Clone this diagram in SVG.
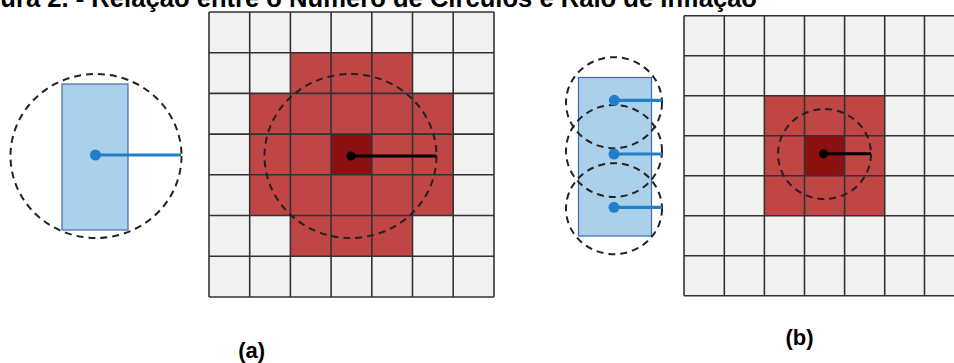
<svg xmlns="http://www.w3.org/2000/svg" width="954" height="363" viewBox="0 0 954 363">
<style>
.title{font-family:"Liberation Sans",Arial,sans-serif;font-weight:bold;font-size:25.6px;fill:#000}
.lbl{font-family:"Liberation Sans",Arial,sans-serif;font-weight:bold;font-size:22px;fill:#000}
.cellbg{fill:#f1f1f1}
.red{fill:#c04545}
.dark{fill:#8c1010}
.gridline{stroke:#333;stroke-width:1.6;fill:none}
.dash{fill:none;stroke:#222;stroke-width:2;stroke-dasharray:7 5}
.blue{fill:#abd0ea;stroke:#4468b0;stroke-width:1.2}
.bdot{fill:#1f7fc8}
.bline{stroke:#1f7fc8;stroke-width:3.2}
.kdot{fill:#000}
.kline{stroke:#000;stroke-width:3}
</style>
<rect width="954" height="363" fill="#fff"/>
<text class="title" x="757" y="7" text-anchor="end">Figura 2. - Relação entre o Número de Círculos e Raio de Inflação</text>

<g id="object-a">
  <rect class="blue" x="62" y="84" width="66" height="146"/>
  <ellipse class="dash" cx="96" cy="156" rx="85.5" ry="82"/>
  <circle class="bdot" cx="95.5" cy="155" r="5.5"/>
</g>

<g id="grid-a">
  <rect class="cellbg" x="209" y="12" width="285" height="285"/>
  <rect class="red" x="290.4" y="52.7" width="122.1" height="40.7"/>
  <rect class="red" x="249.7" y="93.4" width="203.5" height="122.1"/>
  <rect class="red" x="290.4" y="215.5" width="122.1" height="40.7"/>
  <rect class="dark" x="331.1" y="134.1" width="40.7" height="40.7"/>
  <path class="gridline" d="M209 12V297M249.7 12V297M290.4 12V297M331.1 12V297M371.8 12V297M412.5 12V297M453.2 12V297M494 12V297M209 12H494M209 52.7H494M209 93.4H494M209 134.1H494M209 174.8H494M209 215.5H494M209 256.2H494M209 297H494"/>
  <ellipse class="dash" cx="350.5" cy="156" rx="86" ry="82"/>
  <circle class="kdot" cx="351" cy="156" r="4.5"/>
</g>

<g id="object-b">
  <rect class="blue" x="578.5" y="77.5" width="73" height="158.5"/>
  <ellipse class="dash" cx="614" cy="102.7" rx="48" ry="45.5"/>
  <ellipse class="dash" cx="614" cy="151" rx="48" ry="46"/>
  <ellipse class="dash" cx="614" cy="208.7" rx="48" ry="45.5"/>
  <circle class="bdot" cx="614.3" cy="100.3" r="5.5"/>
  <circle class="bdot" cx="614" cy="154" r="5.5"/>
  <circle class="bdot" cx="614" cy="207.3" r="5.5"/>
</g>

<g id="grid-b">
  <rect class="cellbg" x="684" y="15.7" width="280" height="280"/>
  <rect class="red" x="764.4" y="95.7" width="120.3" height="120"/>
  <rect class="dark" x="804.5" y="135.7" width="40.1" height="40"/>
  <path class="gridline" d="M684 15.7V295.7M724.3 15.7V295.7M764.4 15.7V295.7M804.5 15.7V295.7M844.6 15.7V295.7M884.7 15.7V295.7M924.5 15.7V295.7M684 15.7H964M684 55.7H964M684 95.7H964M684 135.7H964M684 175.7H964M684 215.7H964M684 255.7H964M684 295.7H964"/>
  <ellipse class="dash" cx="824.5" cy="154" rx="46.5" ry="45"/>
  <circle class="kdot" cx="823.5" cy="153.7" r="4.5"/>
</g>

<g id="connectors">
  <line class="bline" x1="95.5" y1="155" x2="181" y2="155"/>
  <line class="kline" x1="351" y1="156" x2="436.5" y2="156"/>
  <line class="bline" x1="614.3" y1="100.3" x2="662" y2="100.3"/>
  <line class="bline" x1="614" y1="154" x2="662" y2="154"/>
  <line class="bline" x1="614" y1="207.3" x2="662" y2="207.3"/>
  <line class="kline" x1="823.5" y1="153.7" x2="871" y2="153.7"/>
</g>

<text class="lbl" x="251.7" y="358" text-anchor="middle">(a)</text>
<text class="lbl" x="799.5" y="345" text-anchor="middle">(b)</text>
</svg>
